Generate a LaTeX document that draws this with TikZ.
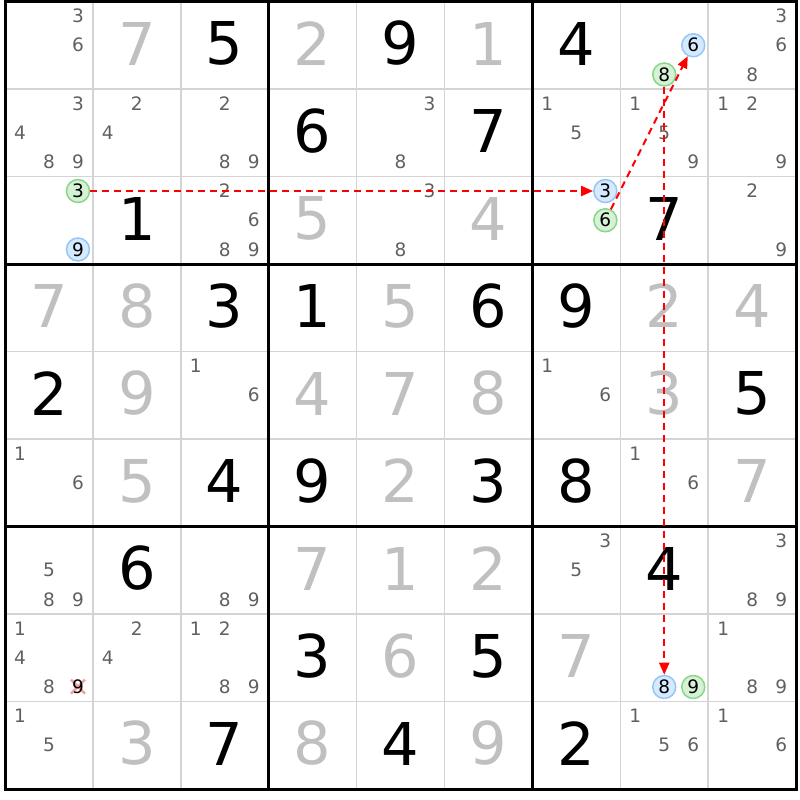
\documentclass[tikz,border=0pt]{standalone}
\usepackage{fontspec}
\setmainfont{DejaVu Sans}
\usepackage{tikz}
\usetikzlibrary{arrows.meta}

\definecolor{candgray}{RGB}{96,96,96}
\definecolor{solvedgray}{RGB}{192,192,192}
\definecolor{gridgray}{RGB}{212,212,212}
\definecolor{greenfill}{RGB}{214,242,214}
\definecolor{greenline}{RGB}{136,214,136}
\definecolor{bluefill}{RGB}{214,234,255}
\definecolor{blueline}{RGB}{150,198,245}
\definecolor{crosspink}{RGB}{244,160,160}

\tikzset{
  given/.style={font=\fontsize{59}{59}\selectfont, text=black, inner sep=0pt},
  solved/.style={given, text=solvedgray},
  cand/.style={font=\fontsize{18.5}{18.5}\selectfont, text=candgray, inner sep=0pt},
  oncand/.style={circle, draw=greenline, fill=greenfill, line width=1.5pt, minimum size=23pt, inner sep=0pt, font=\fontsize{18.5}{18.5}\selectfont, text=black},
  offcand/.style={oncand, draw=blueline, fill=bluefill},
  link/.style={draw=red, line width=2pt, dash pattern=on 7pt off 5pt, -{Triangle[length=12pt,width=10pt]}}
}

\begin{document}
\begin{tikzpicture}[x=87.9pt, y=-87.5pt]
     \useasboundingbox (-0.0569,-0.0171) rectangle (9.0444,9.1257);

     % grid
     \foreach \i in {1,...,8} {
       \draw[gridgray, line width=1.5pt] (\i,0) -- (\i,9);
       \draw[gridgray, line width=1.5pt] (0,\i) -- (9,\i);
     }
     \foreach \i in {3,6} {
       \draw[line width=3pt] (\i,0) -- (\i,9);
       \draw[line width=3pt] (0,\i) -- (9,\i);
     }
     \draw[line width=3pt] (0,0) rectangle (9,9);

     % big digits
     \foreach \r/\c/\d/\s in {1/2/7/solved, 1/3/5/given, 1/4/2/solved, 1/5/9/given, 1/6/1/solved, 1/7/4/given,
         2/4/6/given, 2/6/7/given,
         3/2/1/given, 3/4/5/solved, 3/6/4/solved, 3/8/7/given,
         4/1/7/solved, 4/2/8/solved, 4/3/3/given, 4/4/1/given, 4/5/5/solved, 4/6/6/given, 4/7/9/given, 4/8/2/solved, 4/9/4/solved,
         5/1/2/given, 5/2/9/solved, 5/4/4/solved, 5/5/7/solved, 5/6/8/solved, 5/8/3/solved, 5/9/5/given,
         6/2/5/solved, 6/3/4/given, 6/4/9/given, 6/5/2/solved, 6/6/3/given, 6/7/8/given, 6/9/7/solved,
         7/2/6/given, 7/4/7/solved, 7/5/1/solved, 7/6/2/solved, 7/8/4/given,
         8/4/3/given, 8/5/6/solved, 8/6/5/given, 8/7/7/solved,
         9/2/3/solved, 9/3/7/given, 9/4/8/solved, 9/5/4/given, 9/6/9/solved, 9/7/2/given}
       \node[\s] (g\r\c) at (\c-0.5,\r-0.52) {\d};

     % candidates
     \foreach \r/\c/\ds in {1/1/{3,6}, 1/9/{3,6,8},
         2/1/{3,4,8,9}, 2/2/{2,4}, 2/3/{2,8,9}, 2/5/{3,8}, 2/7/{1,5}, 2/8/{1,5,9}, 2/9/{1,2,9},
         3/3/{2,6,8,9}, 3/5/{3,8}, 3/9/{2,9},
         5/3/{1,6}, 5/7/{1,6}, 6/1/{1,6}, 6/8/{1,6},
         7/1/{5,8,9}, 7/3/{8,9}, 7/7/{3,5}, 7/9/{3,8,9},
         8/1/{1,4,8}, 8/2/{2,4}, 8/3/{1,2,8,9}, 8/9/{1,8,9},
         9/1/{1,5}, 9/8/{1,5,6}, 9/9/{1,6}}
       \foreach \d in \ds
         \node[cand] (k\r\c\d) at ({\c-0.5+0.33*(mod(\d-1,3)-1)}, {\r-0.5+0.334*(int((\d-1)/3)-1)}) {\d};

     % eliminated 9
     \draw[crosspink, line width=2.5pt] (0.75,7.75) -- (0.91,7.91);
     \draw[crosspink, line width=2.5pt] (0.75,7.91) -- (0.91,7.75);
     \node[cand, text=black] (k819) at (0.83,7.834) {9};

     % chain
     \node[offcand] (r1c8d6) at (7.83,0.5)   {6};
     \node[oncand]  (r1c8d8) at (7.5,0.834)  {8};
     \node[oncand]  (r3c1d3) at (0.83,2.166) {3};
     \node[offcand] (r3c1d9) at (0.83,2.834) {9};
     \node[offcand] (r3c7d3) at (6.83,2.166) {3};
     \node[oncand]  (r3c7d6) at (6.83,2.5)   {6};
     \node[offcand] (r8c8d8) at (7.5,7.834)  {8};
     \node[oncand]  (r8c8d9) at (7.83,7.834) {9};

     \draw[link] (r3c1d3) -- (r3c7d3);
     \draw[link] (r3c7d6) -- (r1c8d6);
     \draw[link] (r1c8d8) -- (r8c8d8);
    \end{tikzpicture}
\end{document}
